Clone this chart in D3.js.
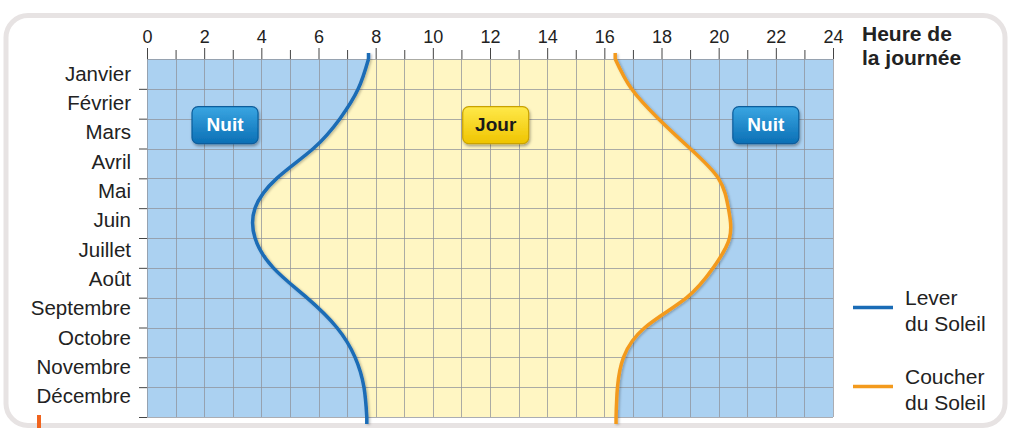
<!DOCTYPE html>
<html>
<head>
<meta charset="utf-8">
<script src="https://cdn.jsdelivr.net/npm/d3@7"></script>
<style>
  html, body { margin: 0; padding: 0; background: #fff; }
  svg { display: block; font-family: "Liberation Sans", Arial, sans-serif; }
</style>
</head>
<body>
<div id="container"></div>
<script>
// CONSTANTS AND GLOBALS
const width = 1010,
  height = 428,
  margin = { top: 59, bottom: 11, left: 147, right: 177 };

// DATA
const months = ["Janvier", "Février", "Mars", "Avril", "Mai", "Juin", "Juillet", "Août", "Septembre", "Octobre", "Novembre", "Décembre"];
const hourTicks = [0, 1, 2, 3, 4, 5, 6, 7, 8, 9, 10, 11, 12, 13, 14, 15, 16, 17, 18, 19, 20, 21, 22, 23, 24];
// month boundaries: 0 = début janvier ... 12 = fin décembre
const monthEdges = [0, 1, 2, 3, 4, 5, 6, 7, 8, 9, 10, 11, 12];
const sunrise = [7.75, 7.39, 6.75, 5.82, 4.54, 3.78, 3.78, 4.42, 5.59, 6.64, 7.28, 7.59, 7.69];
const sunset = [16.38, 16.95, 17.89, 19.0, 19.99, 20.34, 20.38, 19.81, 18.88, 17.42, 16.67, 16.46, 16.41];
const badgeLabels = ["Nuit", "Jour", "Nuit"];
const badgeHours = [2.73, 12.2, 21.65];
const badgeMonth = 2.2;
const legendLabels = [["Lever", "du Soleil"], ["Coucher", "du Soleil"]];

const data = monthEdges.map((m, i) => ({ edge: m, rise: sunrise[i], set: sunset[i] }));

// SCALES
const xScale = d3.scaleLinear()
  .domain([0, 24])
  .range([margin.left, width - margin.right]);

const yScale = d3.scaleLinear()
  .domain([0, 12])
  .range([margin.top, height - margin.bottom]);

// month names sit a little tighter than the grid rows in the original
const labelScale = d3.scalePoint()
  .domain(months)
  .range([yScale(0.5) + 0.5, yScale(11.5) - 5]);

// CREATE SVG ELEMENT
const svg = d3.select("#container")
  .append("svg")
  .attr("width", width)
  .attr("height", height);

const defs = svg.append("defs");

const gradNight = defs.append("linearGradient").attr("id", "gNight").attr("x1", 0).attr("y1", 0).attr("x2", 0).attr("y2", 1);
gradNight.append("stop").attr("offset", "0%").attr("stop-color", "#3aa6e2");
gradNight.append("stop").attr("offset", "100%").attr("stop-color", "#0b6fb5");

const gradDay = defs.append("linearGradient").attr("id", "gDay").attr("x1", 0).attr("y1", 0).attr("x2", 0).attr("y2", 1);
gradDay.append("stop").attr("offset", "0%").attr("stop-color", "#ffe94a");
gradDay.append("stop").attr("offset", "100%").attr("stop-color", "#efc400");

const shadow = defs.append("filter").attr("id", "shadow")
  .attr("x", "-20%").attr("y", "-20%").attr("width", "140%").attr("height", "160%");
shadow.append("feDropShadow")
  .attr("dx", 1).attr("dy", 2).attr("stdDeviation", 1.5)
  .attr("flood-color", "#000").attr("flood-opacity", 0.35);

const lineShadow = defs.append("filter").attr("id", "lineShadow")
  .attr("x", "-20%").attr("y", "-5%").attr("width", "140%").attr("height", "110%");
lineShadow.append("feDropShadow")
  .attr("dx", 1.5).attr("dy", 1).attr("stdDeviation", 1)
  .attr("flood-color", "#000").attr("flood-opacity", 0.25);

// FRAME
svg.append("rect")
  .attr("x", 6).attr("y", 15.5)
  .attr("width", 999).attr("height", 410)
  .attr("rx", 22)
  .attr("fill", "#fff")
  .attr("stroke", "#e7e3e3")
  .attr("stroke-width", 5);

svg.append("rect")
  .attr("x", 37).attr("y", 415)
  .attr("width", 4).attr("height", 13)
  .attr("fill", "#f0641e");

// BACKGROUND (NIGHT) AND DAY AREA
svg.append("rect")
  .attr("x", xScale(0)).attr("y", yScale(0))
  .attr("width", xScale(24) - xScale(0))
  .attr("height", yScale(12) - yScale(0))
  .attr("fill", "#abd1f1");

const dayArea = d3.area()
  .y(d => yScale(d.edge))
  .x0(d => xScale(d.rise))
  .x1(d => xScale(d.set))
  .curve(d3.curveNatural);

svg.append("path")
  .datum(data)
  .attr("fill", "#fff6c3")
  .attr("d", dayArea);

// GRID
const grid = svg.append("g")
  .attr("stroke", "#8f9299")
  .attr("stroke-opacity", 0.75)
  .attr("stroke-width", 1);

grid.selectAll("line.v")
  .data(hourTicks)
  .join("line")
  .attr("class", "v")
  .attr("x1", d => Math.round(xScale(d)) + 0.5)
  .attr("x2", d => Math.round(xScale(d)) + 0.5)
  .attr("y1", yScale(0))
  .attr("y2", yScale(12));

grid.selectAll("line.h")
  .data(monthEdges)
  .join("line")
  .attr("class", "h")
  .attr("x1", xScale(0))
  .attr("x2", xScale(24))
  .attr("y1", d => Math.round(yScale(d)) + 0.5)
  .attr("y2", d => Math.round(yScale(d)) + 0.5);

// AXES
const xAxis = d3.axisTop(xScale)
  .tickValues(hourTicks)
  .tickSize(10)
  .tickPadding(6)
  .tickFormat(d => d % 2 === 0 ? d : "");

const xAxisGroup = svg.append("g")
  .attr("class", "xAxis")
  .attr("transform", `translate(0, ${yScale(0)})`)
  .call(xAxis);

xAxisGroup.select(".domain").remove();
xAxisGroup.selectAll(".tick line")
  .attr("stroke", "#444")
  .attr("y2", d => d % 2 === 0 ? -11 : -9);
xAxisGroup.selectAll(".tick text")
  .attr("fill", "#222")
  .attr("font-size", 18);

const yAxis = d3.axisLeft(yScale)
  .tickValues(monthEdges.slice(1))
  .tickSize(8)
  .tickFormat("");

const yAxisGroup = svg.append("g")
  .attr("class", "yAxis")
  .attr("transform", `translate(${xScale(0)}, 0)`)
  .call(yAxis);

yAxisGroup.select(".domain").remove();
yAxisGroup.selectAll(".tick line").attr("stroke", "#444");

svg.append("g")
  .selectAll("text")
  .data(months)
  .join("text")
  .attr("x", xScale(0) - 16)
  .attr("y", d => labelScale(d))
  .attr("dy", "0.3em")
  .attr("text-anchor", "end")
  .attr("font-size", 20.5)
  .attr("fill", "#222")
  .text(d => d);

// AXIS TITLE
const title = svg.append("text")
  .attr("x", 862)
  .attr("y", 41)
  .attr("font-size", 21)
  .attr("font-weight", "bold")
  .attr("fill", "#222");
title.append("tspan").attr("x", 862).text("Heure de");
title.append("tspan").attr("x", 862).attr("dy", 24).text("la journée");

// CURVES
const riseLine = d3.line()
  .x(d => xScale(d.rise))
  .y(d => yScale(d.edge))
  .curve(d3.curveNatural);

const setLine = d3.line()
  .x(d => xScale(d.set))
  .y(d => yScale(d.edge))
  .curve(d3.curveNatural);

const curves = [
  { line: riseLine, color: "#1a6cb6", key: "rise" },
  { line: setLine, color: "#f39a1d", key: "set" }
];

curves.forEach(c => {
  const g = svg.append("g").attr("filter", "url(#lineShadow)");
  g.append("path")
    .datum(data)
    .attr("fill", "none")
    .attr("stroke", c.color)
    .attr("stroke-width", 3.5)
    .attr("d", c.line);
  // short extensions past the grid, as in the original drawing
  g.append("line")
    .attr("x1", xScale(data[0][c.key])).attr("x2", xScale(data[0][c.key]))
    .attr("y1", yScale(0) - 6).attr("y2", yScale(0))
    .attr("stroke", c.color).attr("stroke-width", 3.5);
  g.append("line")
    .attr("x1", xScale(data[12][c.key])).attr("x2", xScale(data[12][c.key]))
    .attr("y1", yScale(12)).attr("y2", yScale(12) + 7)
    .attr("stroke", c.color).attr("stroke-width", 3.5);
});

// BADGES
const badge = svg.append("g")
  .selectAll("g")
  .data(badgeLabels)
  .join("g")
  .attr("transform", (d, i) => `translate(${xScale(badgeHours[i])}, ${yScale(badgeMonth)})`);

badge.append("rect")
  .attr("x", -33).attr("y", -18)
  .attr("width", 66).attr("height", 37)
  .attr("rx", 6)
  .attr("fill", d => d === "Jour" ? "url(#gDay)" : "url(#gNight)")
  .attr("stroke", d => d === "Jour" ? "#c9a200" : "#0a5d9c")
  .attr("stroke-width", 1.2)
  .attr("filter", "url(#shadow)");

badge.append("text")
  .attr("text-anchor", "middle")
  .attr("dy", "0.36em")
  .attr("font-size", 19)
  .attr("font-weight", "bold")
  .attr("fill", d => d === "Jour" ? "#1a1a1a" : "#fff")
  .text(d => d);

// LEGEND
const legend = svg.append("g")
  .selectAll("g")
  .data(legendLabels)
  .join("g")
  .attr("transform", (d, i) => `translate(853, ${307.5 + i * 79})`);

legend.append("line")
  .attr("x1", 0).attr("x2", 40)
  .attr("stroke", (d, i) => curves[i].color)
  .attr("stroke-width", 3.5);

legend.append("text")
  .attr("x", 52)
  .attr("font-size", 21)
  .attr("fill", "#222")
  .each(function(d) {
    const t = d3.select(this);
    t.append("tspan").attr("x", 52).attr("y", -3).text(d[0]);
    t.append("tspan").attr("x", 52).attr("y", 23).text(d[1]);
  });
</script>
</body>
</html>
